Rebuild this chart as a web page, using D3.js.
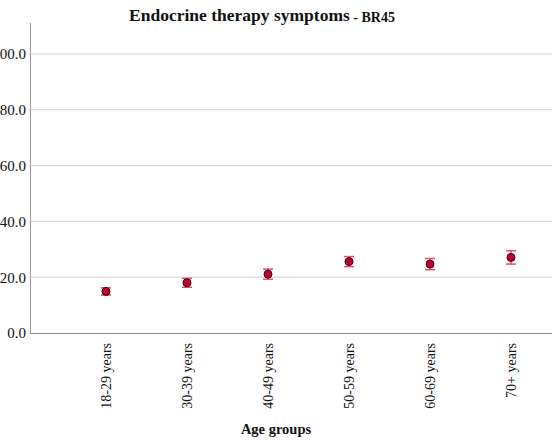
<!DOCTYPE html>
<html><head><meta charset="utf-8">
<script src="https://cdn.jsdelivr.net/npm/d3@7"></script>
<style>body{margin:0;background:#fff}svg{display:block}</style>
</head><body>
<script>
const categories = ["18-29 years","30-39 years","40-49 years","50-59 years","60-69 years","70+ years"];
const means = [14.9, 18.0, 21.1, 25.6, 24.7, 27.1];
const errs = [1.3, 1.6, 1.8, 1.8, 2.0, 2.4];
const yTicks = [0, 20, 40, 60, 80, 100];

const W = 552, H = 440;
const svg = d3.select("body").append("svg").attr("width", W).attr("height", H);
const font = "'Liberation Serif','Times New Roman',serif";

const x = d3.scalePoint().domain(categories).range([106, 511]);
const y = d3.scaleLinear().domain([0, 100]).range([333, 54]);

// gridlines
svg.append("g").selectAll("line").data(yTicks.filter(d => d > 0)).join("line")
  .attr("x1", 30).attr("x2", W).attr("y1", d => y(d)).attr("y2", d => y(d))
  .attr("stroke", "#cfcfcf").attr("stroke-width", 1);

// y axis
const yAxis = svg.append("g").attr("transform", "translate(30,0)")
  .call(d3.axisLeft(y).tickValues(yTicks).tickFormat(d3.format(".1f")).tickSize(0).tickPadding(4));
yAxis.select(".domain").remove();
yAxis.selectAll("text").attr("font-family", font).attr("font-size", 15).attr("fill", "#111");
svg.append("line").attr("x1", 30.5).attr("x2", 30.5).attr("y1", 23).attr("y2", 333.5)
  .attr("stroke", "#999").attr("stroke-width", 1);

// x axis
const xAxis = svg.append("g").attr("transform", "translate(0,333)")
  .call(d3.axisBottom(x).tickSize(0).tickPadding(0));
xAxis.select(".domain").remove();
svg.append("line").attr("x1", 30).attr("x2", W).attr("y1", 333.5).attr("y2", 333.5)
  .attr("stroke", "#888").attr("stroke-width", 1.2);
xAxis.selectAll("text")
  .attr("font-family", font).attr("font-size", 14).attr("fill", "#111")
  .attr("transform", "rotate(-90)")
  .attr("text-anchor", "end").attr("dy", "0.35em").attr("x", -10).attr("y", 0);

// error bars
const g = svg.append("g");
categories.forEach((c, i) => {
  const cx = x(c);
  const col = "#e0506e";
  g.append("line").attr("x1", cx).attr("x2", cx).attr("y1", y(means[i] - errs[i])).attr("y2", y(means[i] + errs[i]))
    .attr("stroke", col).attr("stroke-width", 1.5);
  [means[i] - errs[i], means[i] + errs[i]].forEach(v => {
    g.append("line").attr("x1", cx - 5).attr("x2", cx + 5).attr("y1", y(v)).attr("y2", y(v))
      .attr("stroke", col).attr("stroke-width", 1.5);
  });
});
g.selectAll("circle").data(categories).join("circle")
  .attr("cx", d => x(d)).attr("cy", (d, i) => y(means[i])).attr("r", 4)
  .attr("fill", "#c0002e").attr("stroke", "#3a0010").attr("stroke-width", 1);

// title
const t = svg.append("text").attr("x", 262).attr("y", 21).attr("text-anchor", "middle")
  .attr("font-family", font).attr("font-weight", "bold").attr("fill", "#111");
t.append("tspan").attr("font-size", 17.5).text("Endocrine therapy symptoms");
t.append("tspan").attr("font-size", 14).attr("dy", 1).text(" - BR45");

// x title
svg.append("text").attr("x", 276).attr("y", 434).attr("text-anchor", "middle")
  .attr("font-family", font).attr("font-weight", "bold").attr("font-size", 14.5).attr("fill", "#111")
  .text("Age groups");
</script>
</body></html>
